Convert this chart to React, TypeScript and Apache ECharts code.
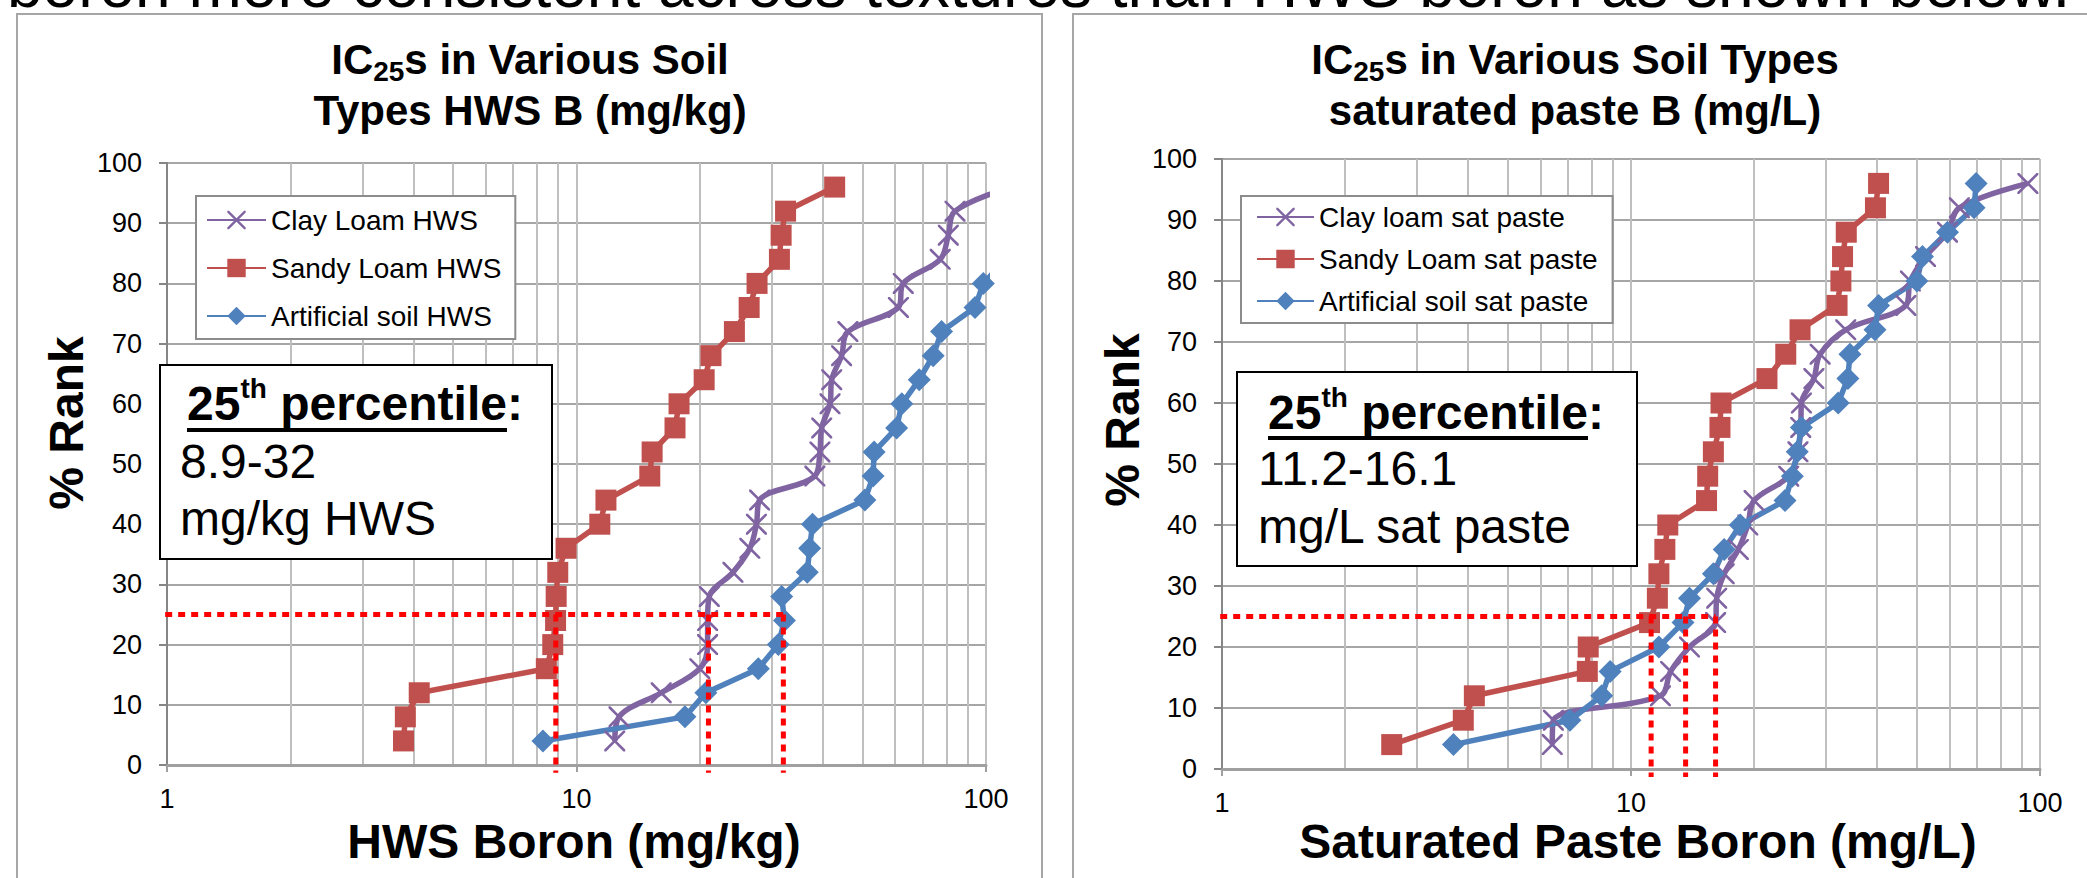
import React, { useEffect, useRef } from 'react';
import * as echarts from 'echarts';

const FONT = '"Liberation Sans", Arial, Helvetica, sans-serif';

// % rank of each ranked IC25 value
const ranks = [4, 8, 12, 16, 20, 24, 28, 32, 36, 40, 44, 48, 52, 56, 60, 64, 68, 72, 76, 80, 84, 88, 92, 96];

// Left chart: HWS boron (mg/kg)
const hwsNames = ['Clay Loam HWS', 'Sandy Loam HWS', 'Artificial soil HWS'];
const clayHWS = [12.4, 12.7, 16.1, 20.0, 20.9, 20.9, 21.1, 24.1, 26.5, 27.5, 28.0, 38.2, 39.3, 39.7, 41.6, 42.0, 44.4, 46.0, 61.1, 62.8, 77.3, 80.9, 84.0, 115];
const sandyHWS = [3.78, 3.82, 4.13, 8.44, 8.75, 8.89, 8.92, 9.0, 9.43, 11.4, 11.8, 15.1, 15.3, 17.4, 17.8, 20.5, 21.3, 24.3, 26.4, 27.6, 31.3, 31.6, 32.4, 42.7];
const artHWS = [8.28, 18.4, 20.7, 27.8, 31.1, 32.2, 31.7, 36.6, 37.1, 37.7, 50.6, 53.0, 53.3, 60.5, 62.3, 68.7, 74.3, 77.9, 94.0, 98.5, 112, 126, 142, 165];
const hwsP25 = [8.9, 21, 32];

// Right chart: saturated paste boron (mg/L)
const satNames = ['Clay loam sat paste', 'Sandy Loam sat paste', 'Artificial soil sat paste'];
const claySat = [6.42, 6.46, 11.8, 12.5, 13.9, 16.1, 16.2, 16.9, 18.3, 19.3, 20.0, 24.3, 25.6, 26.0, 26.1, 28.0, 29.0, 33.5, 47.0, 48.2, 52.5, 59.4, 63.5, 93.4];
const sandySat = [2.60, 3.89, 4.14, 7.82, 7.86, 11.1, 11.6, 11.7, 12.1, 12.3, 15.3, 15.4, 15.9, 16.5, 16.6, 21.5, 23.9, 25.9, 31.9, 32.6, 32.9, 33.6, 39.6, 40.3];
const artSat = [3.68, 7.09, 8.48, 8.89, 11.7, 13.4, 13.9, 15.9, 16.9, 18.5, 23.8, 24.8, 25.5, 26.1, 32.1, 33.9, 34.3, 39.5, 40.3, 50.0, 51.6, 59.4, 69.0, 69.8];
const satP25 = [11.2, 13.6, 16.1];

const P25_RANK = 25;
const REF_LINE_START = 0.92; // horizontal guide starts just left of the axis
const REF_LINE_END = -1.3;   // vertical guides run just below the axis

const PURPLE = '#8064a2';
const RED = '#c0504d';
const BLUE = '#4f81bd';
const CROSS = 'path://M0,0L1.6,0L9,7.4L16.4,0L18,0L18,1.6L10.6,9L18,16.4L18,18L16.4,18L9,10.6L1.6,18L0,18L0,16.4L7.4,9L0,1.6Z';

function dataSeries(name: string, xs: number[], color: string, symbol: string, size: number, smooth: number | boolean, idx: number) {
  return {
    type: 'line',
    name,
    xAxisIndex: idx,
    yAxisIndex: idx,
    data: xs.map((x, i) => [x, ranks[i]]),
    smooth,
    symbol,
    symbolSize: size,
    showAllSymbol: true,
    lineStyle: { color, width: 5.5 },
    itemStyle: { color },
    emphasis: { disabled: true },
    z: 3,
  };
}

function refSeries(points: number[][], idx: number) {
  return {
    type: 'line',
    xAxisIndex: idx,
    yAxisIndex: idx,
    data: points,
    symbol: 'none',
    clip: false,
    silent: true,
    lineStyle: { color: '#ff0000', width: 5, type: [7, 6] },
    emphasis: { disabled: true },
    z: 6,
  };
}

function refLines(p25: number[], idx: number) {
  const out: any[] = [refSeries([[REF_LINE_START, P25_RANK], [Math.max(...p25), P25_RANK]], idx)];
  p25.forEach((v) => out.push(refSeries([[v, P25_RANK], [v, REF_LINE_END]], idx)));
  return out;
}

function xAxis(idx: number) {
  return {
    type: 'log',
    logBase: 10,
    min: 1,
    max: 100,
    gridIndex: idx,
    axisLine: { show: true, onZero: false, lineStyle: { color: '#a0a0a0', width: 3 } },
    axisTick: { show: true, length: 7, lineStyle: { color: '#a0a0a0', width: 2 } },
    axisLabel: { fontSize: 27, color: '#000', margin: 20, fontFamily: FONT },
    splitLine: { show: true, lineStyle: { color: '#bfbfbf', width: 2 } },
    minorTick: { show: false, splitNumber: 9 },
    minorSplitLine: { show: true, lineStyle: { color: '#bfbfbf', width: 2 } },
  };
}

function yAxis(idx: number) {
  return {
    type: 'value',
    min: 0,
    max: 100,
    interval: 10,
    gridIndex: idx,
    axisLine: { show: true, onZero: false, lineStyle: { color: '#868686', width: 2 } },
    axisTick: { show: true, length: 8, lineStyle: { color: '#868686', width: 2 } },
    axisLabel: { fontSize: 27, color: '#000', margin: 25, fontFamily: FONT },
    splitLine: { show: true, lineStyle: { color: '#a6a6a6', width: 2 } },
  };
}

function legend(names: string[], left: number, padding: number[], gap: number, itemWidth: number) {
  return {
    data: names,
    orient: 'vertical',
    left,
    top: 196,
    padding,
    itemGap: gap,
    itemWidth,
    itemHeight: 23,
    selectedMode: false,
    backgroundColor: '#ffffff',
    borderColor: '#8c8c8c',
    borderWidth: 2,
    borderRadius: 0,
    textStyle: { fontSize: 28, color: '#000', fontFamily: FONT },
    z: 8,
  };
}

function plainText(text: string, x: number, y: number, size: number, bold: boolean, align: string, rotation = 0) {
  return {
    type: 'text',
    x,
    y,
    rotation,
    z: 20,
    silent: true,
    style: {
      text,
      fontSize: size,
      fontWeight: bold ? 'bold' : 'normal',
      fontFamily: FONT,
      fill: '#000',
      textAlign: align,
      textVerticalAlign: 'middle',
    },
  };
}

function titleText(line1rest: string, line2: string, x: number) {
  return {
    type: 'text',
    x,
    y: 34,
    z: 20,
    silent: true,
    style: {
      text: `{a|IC}{s|25}{a|${line1rest}}\n{a|${line2}}`,
      textAlign: 'center',
      textVerticalAlign: 'top',
      fill: '#000',
      rich: {
        a: { fontSize: 42, fontWeight: 'bold', fontFamily: FONT, lineHeight: 51, fill: '#000' },
        s: { fontSize: 28, fontWeight: 'bold', fontFamily: FONT, lineHeight: 19, verticalAlign: 'bottom', fill: '#000' },
      },
    },
  };
}

function percentileHead(x: number, top: number) {
  return {
    type: 'text',
    x,
    y: top,
    z: 21,
    silent: true,
    style: {
      text: '{b|25}{p|th}{b| percentile:}',
      textAlign: 'left',
      textVerticalAlign: 'top',
      fill: '#000',
      rich: {
        b: { fontSize: 48, fontWeight: 'bold', fontFamily: FONT, lineHeight: 58, fill: '#000' },
        p: { fontSize: 28, fontWeight: 'bold', fontFamily: FONT, lineHeight: 46, verticalAlign: 'top', fill: '#000' },
      },
    },
  };
}

function annotation(box: number[], headX: number, headTop: number, ulY: number, ulEnd: number, textX: number, l1: string, y1: number, l2: string, y2: number) {
  return [
    {
      type: 'rect',
      z: 19,
      silent: true,
      shape: { x: box[0], y: box[1], width: box[2], height: box[3] },
      style: { fill: '#ffffff', stroke: '#000000', lineWidth: 2 },
    },
    percentileHead(headX, headTop),
    {
      type: 'line',
      z: 21,
      silent: true,
      shape: { x1: headX, y1: ulY, x2: ulEnd, y2: ulY },
      style: { stroke: '#000', lineWidth: 4 },
    },
    plainText(l1, textX, y1, 48, false, 'left'),
    plainText(l2, textX, y2, 48, false, 'left'),
  ];
}

export default function App() {
  const ref = useRef<HTMLDivElement>(null);

  useEffect(() => {
    if (!ref.current) return;
    const chart = echarts.init(ref.current, undefined, { renderer: 'svg' });

    const option: any = {
      animation: false,
      backgroundColor: '#ffffff',
      textStyle: { fontFamily: FONT },
      grid: [
        { left: 167, top: 163, width: 819, height: 602, containLabel: false, outerBoundsMode: 'none' },
        { left: 1222, top: 159, width: 818, height: 610, containLabel: false, outerBoundsMode: 'none' },
      ],
      xAxis: [xAxis(0), xAxis(1)],
      yAxis: [yAxis(0), yAxis(1)],
      legend: [
        legend(hwsNames, 196, [10, 14, 9, 10], 20, 59),
        legend(satNames, 1241, [7, 15, 8, 15], 14, 57),
      ],
      series: [
        dataSeries(hwsNames[0], clayHWS, PURPLE, CROSS, 21, 0.35, 0),
        dataSeries(hwsNames[1], sandyHWS, RED, 'rect', 21, false, 0),
        dataSeries(hwsNames[2], artHWS, BLUE, 'diamond', 23, false, 0),
        ...refLines(hwsP25, 0),
        dataSeries(satNames[0], claySat, PURPLE, CROSS, 21, 0.35, 1),
        dataSeries(satNames[1], sandySat, RED, 'rect', 21, false, 1),
        dataSeries(satNames[2], artSat, BLUE, 'diamond', 23, false, 1),
        ...refLines(satP25, 1),
      ],
      graphic: [
        {
          type: 'rect',
          z: -1,
          silent: true,
          shape: { x: 17, y: 14, width: 1025, height: 900 },
          style: { fill: 'none', stroke: '#a6a6a6', lineWidth: 2 },
        },
        {
          type: 'rect',
          z: -1,
          silent: true,
          shape: { x: 1073, y: 14, width: 1100, height: 900 },
          style: { fill: 'none', stroke: '#a6a6a6', lineWidth: 2 },
        },
        plainText('boron more consistent across textures than HWS boron as shown below.', 7, -15, 64, false, 'left'),
        titleText('s in Various Soil', 'Types HWS B (mg/kg)', 530),
        titleText('s in Various Soil Types', 'saturated paste B (mg/L)', 1575),
        plainText('% Rank', 66, 423, 48, true, 'center', Math.PI / 2),
        plainText('% Rank', 1122, 420, 48, true, 'center', Math.PI / 2),
        plainText('HWS Boron (mg/kg)', 574, 841, 48, true, 'center'),
        plainText('Saturated Paste Boron (mg/L)', 1638, 841, 48, true, 'center'),
        ...annotation([160, 365, 392, 194], 187, 374, 430, 507, 180, '8.9-32', 461.7, 'mg/kg HWS', 518.2),
        ...annotation([1237, 372, 400, 194], 1268, 383, 438, 1588, 1258, '11.2-16.1', 468.2, 'mg/L sat paste', 526.2),
      ],
    };

    chart.setOption(option);
    return () => chart.dispose();
  }, []);

  return (
    <div
      ref={ref}
      style={{ position: 'fixed', left: 0, top: 0, width: 2087, height: 878, background: '#ffffff' }}
    />
  );
}
